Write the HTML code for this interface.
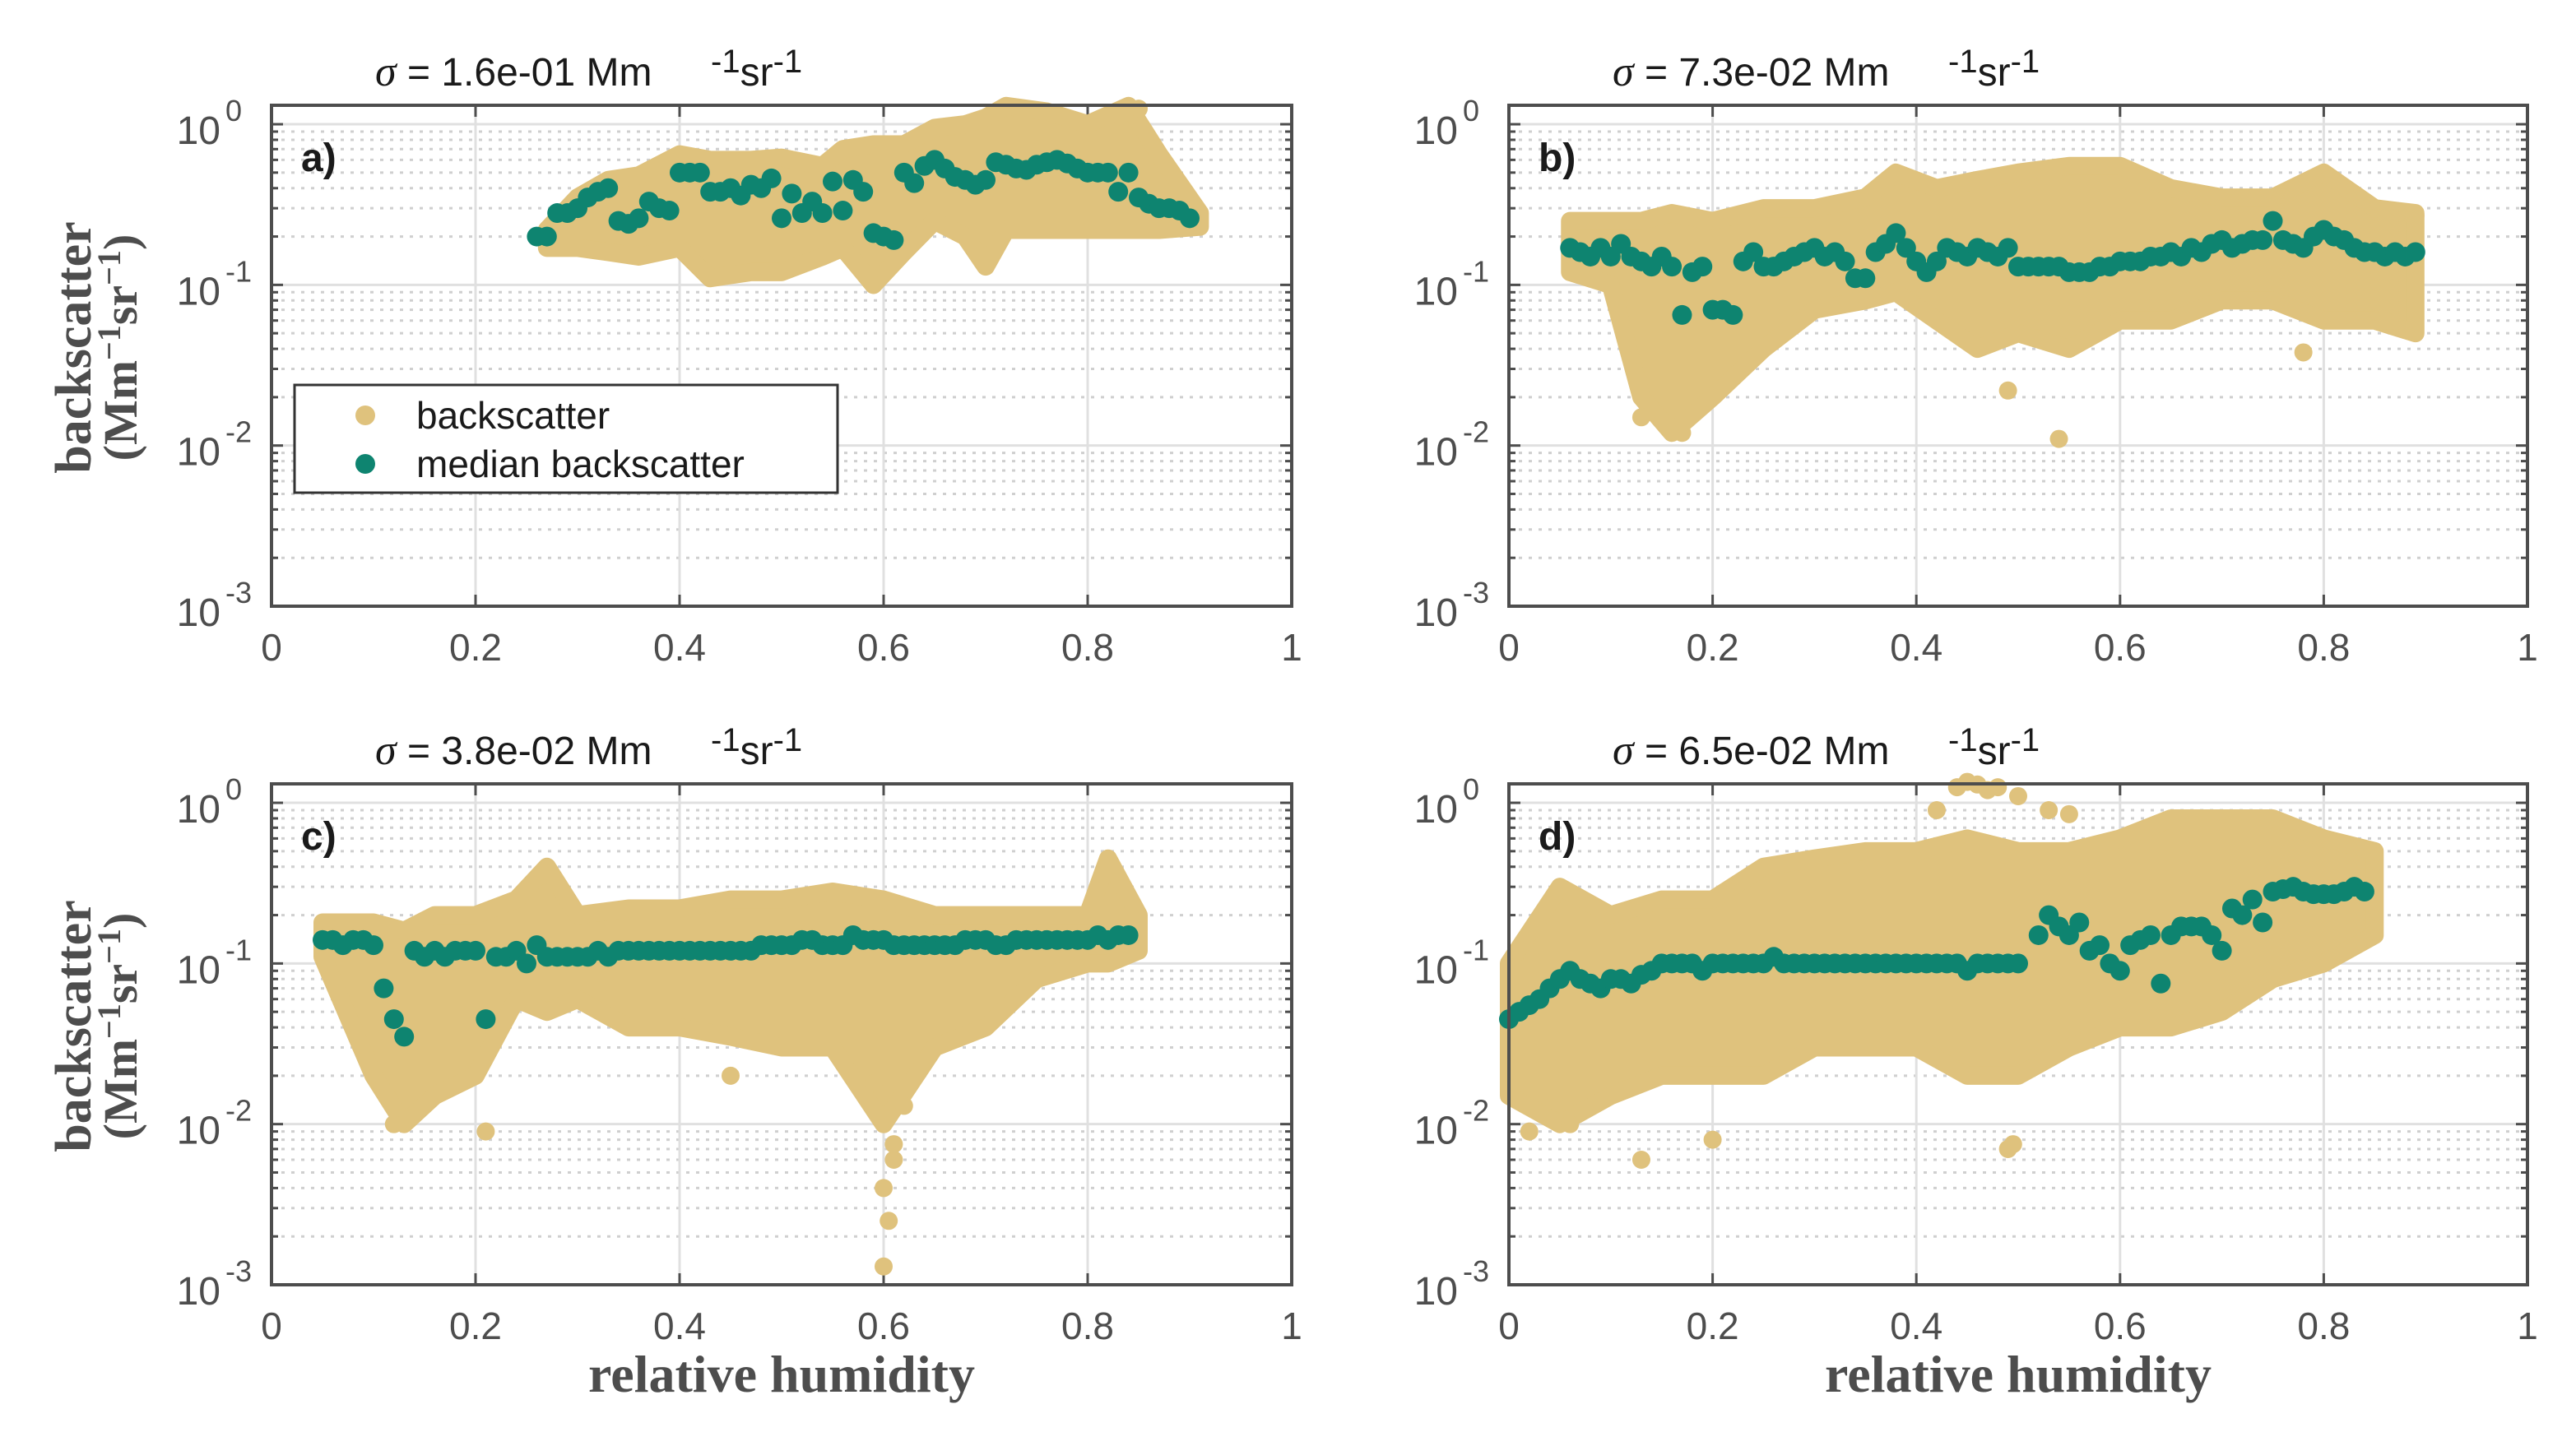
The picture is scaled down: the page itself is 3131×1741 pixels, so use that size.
<!DOCTYPE html>
<html><head><meta charset="utf-8">
<style>
html,body{margin:0;padding:0;background:#fff;}
svg{display:block;}
.sans{font-family:"Liberation Sans",sans-serif;}
.serif{font-family:"Liberation Serif",serif;}
</style></head>
<body>
<svg id="fig" width="3131" height="1741" viewBox="0 0 3131 1741" xmlns="http://www.w3.org/2000/svg"></svg>
<script>
// ---- data ----
const xTicks = [0, 0.2, 0.4, 0.6, 0.8, 1];
const xTickLabels = ["0", "0.2", "0.4", "0.6", "0.8", "1"];
const yDecades = [-3, -2, -1, 0];
const panelLetters = ["a)", "b)", "c)", "d)"];
const sigmaLabels = ["1.6e-01", "7.3e-02", "3.8e-02", "6.5e-02"];

// cloud envelopes: x, lower, upper
const cloudAX = [0.27,0.30,0.33,0.36,0.40,0.43,0.47,0.50,0.54,0.56,0.59,0.62,0.65,0.68,0.70,0.72,0.76,0.80,0.84,0.87,0.91];
const cloudALo = [0.17,0.17,0.16,0.15,0.17,0.11,0.12,0.12,0.15,0.17,0.10,0.16,0.25,0.20,0.13,0.22,0.22,0.22,0.22,0.22,0.23];
const cloudAHi = [0.22,0.35,0.45,0.48,0.65,0.60,0.60,0.62,0.55,0.70,0.75,0.75,0.95,1.0,1.1,1.3,1.2,1.0,1.3,0.65,0.28];

const cloudBX = [0.06,0.10,0.13,0.16,0.20,0.25,0.30,0.35,0.38,0.42,0.46,0.50,0.55,0.60,0.65,0.70,0.75,0.80,0.85,0.89];
const cloudBLo = [0.12,0.10,0.02,0.012,0.02,0.04,0.07,0.08,0.09,0.06,0.04,0.05,0.04,0.06,0.06,0.08,0.08,0.06,0.06,0.05];
const cloudBHi = [0.25,0.25,0.25,0.28,0.25,0.30,0.30,0.35,0.50,0.40,0.45,0.50,0.55,0.55,0.40,0.35,0.35,0.50,0.30,0.28];

const cloudCX = [0.05,0.10,0.13,0.16,0.20,0.24,0.27,0.30,0.35,0.40,0.45,0.50,0.55,0.60,0.65,0.70,0.75,0.80,0.82,0.85];
const cloudCLo = [0.11,0.02,0.01,0.015,0.02,0.06,0.05,0.06,0.04,0.04,0.035,0.03,0.03,0.01,0.03,0.04,0.08,0.10,0.10,0.12];
const cloudCHi = [0.18,0.18,0.16,0.20,0.20,0.25,0.40,0.20,0.22,0.22,0.25,0.25,0.28,0.25,0.20,0.20,0.20,0.20,0.45,0.20];

const cloudDX = [0.00,0.05,0.10,0.15,0.20,0.25,0.30,0.35,0.40,0.45,0.50,0.55,0.60,0.65,0.70,0.75,0.80,0.85];
const cloudDLo = [0.015,0.01,0.015,0.02,0.02,0.02,0.03,0.03,0.03,0.02,0.02,0.03,0.04,0.04,0.05,0.08,0.10,0.15];
const cloudDHi = [0.10,0.30,0.20,0.25,0.25,0.40,0.45,0.50,0.50,0.60,0.50,0.50,0.60,0.80,0.80,0.80,0.60,0.50];

// scattered outliers
const outAX = [0.59,0.85];
const outAY = [0.10,1.25];
const outBX = [0.54,0.78,0.49,0.17,0.86,0.89,0.13];
const outBY = [0.011,0.038,0.022,0.012,0.06,0.27,0.015];
const outCX = [0.60,0.605,0.60,0.61,0.61,0.45,0.21,0.12,0.59,0.62];
const outCY = [0.0013,0.0025,0.004,0.006,0.0075,0.02,0.009,0.01,0.018,0.013];
const outDX = [0.44,0.45,0.46,0.47,0.48,0.50,0.53,0.55,0.42,0.13,0.49,0.20,0.06,0.02,0.495];
const outDY = [1.25,1.35,1.3,1.2,1.25,1.1,0.9,0.85,0.9,0.006,0.007,0.008,0.01,0.009,0.0075];

// medians
const medAX = [0.26,0.27,0.28,0.29,0.30,0.31,0.32,0.33,0.34,0.35,0.36,0.37,0.38,0.39,0.40,0.41,0.42,0.43,0.44,0.45,0.46,0.47,0.48,0.49,0.50,0.51,0.52,0.53,0.54,0.55,0.56,0.57,0.58,0.59,0.60,0.61,0.62,0.63,0.64,0.65,0.66,0.67,0.68,0.69,0.70,0.71,0.72,0.73,0.74,0.75,0.76,0.77,0.78,0.79,0.80,0.81,0.82,0.83,0.84,0.85,0.86,0.87,0.88,0.89,0.90];
const medAY = [0.2,0.2,0.28,0.28,0.3,0.35,0.38,0.4,0.25,0.24,0.26,0.33,0.3,0.29,0.5,0.5,0.5,0.38,0.38,0.4,0.36,0.42,0.4,0.46,0.26,0.37,0.28,0.33,0.28,0.44,0.29,0.45,0.38,0.21,0.2,0.19,0.5,0.43,0.55,0.6,0.53,0.47,0.45,0.42,0.45,0.58,0.56,0.53,0.52,0.56,0.58,0.6,0.57,0.53,0.5,0.5,0.5,0.38,0.5,0.35,0.32,0.3,0.3,0.29,0.26];
const medBX = [0.06,0.07,0.08,0.09,0.10,0.11,0.12,0.13,0.14,0.15,0.16,0.17,0.18,0.19,0.20,0.21,0.22,0.23,0.24,0.25,0.26,0.27,0.28,0.29,0.30,0.31,0.32,0.33,0.34,0.35,0.36,0.37,0.38,0.39,0.40,0.41,0.42,0.43,0.44,0.45,0.46,0.47,0.48,0.49,0.50,0.51,0.52,0.53,0.54,0.55,0.56,0.57,0.58,0.59,0.60,0.61,0.62,0.63,0.64,0.65,0.66,0.67,0.68,0.69,0.70,0.71,0.72,0.73,0.74,0.75,0.76,0.77,0.78,0.79,0.80,0.81,0.82,0.83,0.84,0.85,0.86,0.87,0.88,0.89];
const medBY = [0.17,0.16,0.15,0.17,0.15,0.18,0.15,0.14,0.13,0.15,0.13,0.065,0.12,0.13,0.07,0.07,0.065,0.14,0.16,0.13,0.13,0.14,0.15,0.16,0.17,0.15,0.16,0.14,0.11,0.11,0.16,0.18,0.21,0.17,0.14,0.12,0.14,0.17,0.16,0.15,0.17,0.16,0.15,0.17,0.13,0.13,0.13,0.13,0.13,0.12,0.12,0.12,0.13,0.13,0.14,0.14,0.14,0.15,0.15,0.16,0.15,0.17,0.16,0.18,0.19,0.17,0.18,0.19,0.19,0.25,0.19,0.18,0.17,0.2,0.22,0.2,0.19,0.17,0.16,0.16,0.15,0.16,0.15,0.16];
const medCX = [0.05,0.06,0.07,0.08,0.09,0.10,0.11,0.12,0.13,0.14,0.15,0.16,0.17,0.18,0.19,0.20,0.21,0.22,0.23,0.24,0.25,0.26,0.27,0.28,0.29,0.30,0.31,0.32,0.33,0.34,0.35,0.36,0.37,0.38,0.39,0.40,0.41,0.42,0.43,0.44,0.45,0.46,0.47,0.48,0.49,0.50,0.51,0.52,0.53,0.54,0.55,0.56,0.57,0.58,0.59,0.60,0.61,0.62,0.63,0.64,0.65,0.66,0.67,0.68,0.69,0.70,0.71,0.72,0.73,0.74,0.75,0.76,0.77,0.78,0.79,0.80,0.81,0.82,0.83,0.84];
const medCY = [0.14,0.14,0.13,0.14,0.14,0.13,0.07,0.045,0.035,0.12,0.11,0.12,0.11,0.12,0.12,0.12,0.045,0.11,0.11,0.12,0.1,0.13,0.11,0.11,0.11,0.11,0.11,0.12,0.11,0.12,0.12,0.12,0.12,0.12,0.12,0.12,0.12,0.12,0.12,0.12,0.12,0.12,0.12,0.13,0.13,0.13,0.13,0.14,0.14,0.13,0.13,0.13,0.15,0.14,0.14,0.14,0.13,0.13,0.13,0.13,0.13,0.13,0.13,0.14,0.14,0.14,0.13,0.13,0.14,0.14,0.14,0.14,0.14,0.14,0.14,0.14,0.15,0.14,0.15,0.15];
const medDX = [0.00,0.01,0.02,0.03,0.04,0.05,0.06,0.07,0.08,0.09,0.10,0.11,0.12,0.13,0.14,0.15,0.16,0.17,0.18,0.19,0.20,0.21,0.22,0.23,0.24,0.25,0.26,0.27,0.28,0.29,0.30,0.31,0.32,0.33,0.34,0.35,0.36,0.37,0.38,0.39,0.40,0.41,0.42,0.43,0.44,0.45,0.46,0.47,0.48,0.49,0.50,0.52,0.53,0.54,0.55,0.56,0.57,0.58,0.59,0.60,0.61,0.62,0.63,0.64,0.65,0.66,0.67,0.68,0.69,0.70,0.71,0.72,0.73,0.74,0.75,0.76,0.77,0.78,0.79,0.80,0.81,0.82,0.83,0.84];
const medDY = [0.045,0.05,0.055,0.06,0.07,0.08,0.09,0.08,0.075,0.07,0.08,0.08,0.075,0.085,0.09,0.1,0.1,0.1,0.1,0.09,0.1,0.1,0.1,0.1,0.1,0.1,0.11,0.1,0.1,0.1,0.1,0.1,0.1,0.1,0.1,0.1,0.1,0.1,0.1,0.1,0.1,0.1,0.1,0.1,0.1,0.09,0.1,0.1,0.1,0.1,0.1,0.15,0.2,0.17,0.15,0.18,0.12,0.13,0.1,0.09,0.13,0.14,0.15,0.075,0.15,0.17,0.17,0.17,0.15,0.12,0.22,0.2,0.25,0.18,0.28,0.29,0.3,0.28,0.27,0.27,0.27,0.28,0.3,0.28];

const panels = [
 {L:330, T:128, W:1240, H:609, cx:cloudAX, lo:cloudALo, hi:cloudAHi, ox:outAX, oy:outAY, mx:medAX, my:medAY},
 {L:1834,T:128, W:1238, H:609, cx:cloudBX, lo:cloudBLo, hi:cloudBHi, ox:outBX, oy:outBY, mx:medBX, my:medBY},
 {L:330, T:953, W:1240, H:609, cx:cloudCX, lo:cloudCLo, hi:cloudCHi, ox:outCX, oy:outCY, mx:medCX, my:medCY},
 {L:1834,T:953, W:1238, H:609, cx:cloudDX, lo:cloudDLo, hi:cloudDHi, ox:outDX, oy:outDY, mx:medDX, my:medDY}
];
const TAN = "#dfc27d", TEAL = "#0e8470", AX = "#4d4d4d";
const LOGTOP = 0.118;

const NS = "http://www.w3.org/2000/svg";
const svg = document.getElementById("fig");
function mk(tag, attrs, parent){
  const e = document.createElementNS(NS, tag);
  for (const k in attrs) e.setAttribute(k, attrs[k]);
  (parent||svg).appendChild(e);
  return e;
}

panels.forEach((p, i) => {
  const xs = v => p.L + v * p.W;
  const ys = v => p.T + p.H - (Math.log10(v) + 3) / (3 + LOGTOP) * p.H;
  const B = p.T + p.H;
  const g = mk("g", {});
  
  

  yDecades.forEach(d => {
    for (let m = 2; m <= 9; m++) {
      const v = m * Math.pow(10, d);
      if (Math.log10(v) > LOGTOP) continue;
      const yy = ys(v);
      const ln = mk("line", {x1:p.L, x2:p.L+p.W, y1:yy, y2:yy, stroke:"#cfcfcf", "stroke-width":3, "stroke-dasharray":"4 8"}, g);
      
      
      mk("line", {x1:p.L, x2:p.L+8, y1:yy, y2:yy, stroke:AX, "stroke-width":3}, g);
      mk("line", {x1:p.L+p.W-8, x2:p.L+p.W, y1:yy, y2:yy, stroke:AX, "stroke-width":3}, g);
    }
  });
  yDecades.forEach(d => {
    const yy = ys(Math.pow(10, d));
    const ln = mk("line", {x1:p.L, x2:p.L+p.W, y1:yy, y2:yy, stroke:"#e0e0e0", "stroke-width":3}, g);
    
    
    mk("line", {x1:p.L, x2:p.L+14, y1:yy, y2:yy, stroke:AX, "stroke-width":3}, g);
    mk("line", {x1:p.L+p.W-14, x2:p.L+p.W, y1:yy, y2:yy, stroke:AX, "stroke-width":3}, g);
    const t = mk("text", {x:p.L-62, y:yy+24, "text-anchor":"end", "font-size":48, fill:AX, "class":"sans"}, g);
    t.textContent = "10";
    
    
    const s = mk("text", {x:p.L-56, y:yy-4, "font-size":36, fill:AX, "class":"sans"}, g);
    s.textContent = String(d);
    
    
  });
  xTicks.forEach((v, k) => {
    const xx = xs(v);
    if (k > 0 && k < xTicks.length - 1) {
      mk("line", {x1:xx, x2:xx, y1:p.T, y2:B, stroke:"#e0e0e0", "stroke-width":3}, g);
      mk("line", {x1:xx, x2:xx, y1:p.T, y2:p.T+14, stroke:AX, "stroke-width":3}, g);
      mk("line", {x1:xx, x2:xx, y1:B-14, y2:B, stroke:AX, "stroke-width":3}, g);
    }
    const t = mk("text", {x:xx, y:B+66, "text-anchor":"middle", "font-size":46, fill:AX, "class":"sans"}, g);
    t.textContent = xTickLabels[k];
    
    
  });

  let pts = p.cx.map((x, k) => xs(x) + "," + ys(p.hi[k]));
  for (let k = p.cx.length - 1; k >= 0; k--) pts.push(xs(p.cx[k]) + "," + ys(p.lo[k]));
  const cloud = mk("polygon", {points:pts.join(" "), fill:TAN, stroke:TAN, "stroke-width":22, "stroke-linejoin":"round"}, g);
  
  
  p.ox.forEach((x, k) => {
    const c = mk("circle", {cx:xs(x), cy:ys(p.oy[k]), r:11, fill:TAN}, g);
    
    
  });
  p.mx.forEach((x, k) => {
    const c = mk("circle", {cx:xs(x), cy:ys(p.my[k]), r:12, fill:TEAL}, g);
    
    
  });

  const box = mk("rect", {x:p.L, y:p.T, width:p.W, height:p.H, fill:"none", stroke:AX, "stroke-width":4}, g);
  
  

  const lt = mk("text", {x:p.L+36, y:p.T+80, "font-size":48, "font-weight":"bold", fill:"#1a1a1a", "class":"sans"}, g);
  lt.textContent = panelLetters[i];
  
  

  const tt = mk("text", {x:p.L+126, y:p.T-24, "font-size":48, fill:"#1a1a1a", "class":"sans"}, g);
  tt.innerHTML = '<tspan style="font-family:\'Liberation Serif\',serif;font-style:italic" font-size="52">σ</tspan> = ' + sigmaLabels[i] + ' Mm';
  
  
  const tu = mk("text", {x:p.L+534, y:p.T-24, "font-size":48, fill:"#1a1a1a", "class":"sans"}, g);
  tu.innerHTML = '<tspan dy="-16" font-size="40">-1</tspan><tspan dy="16">sr</tspan><tspan dy="-16" font-size="40">-1</tspan>';
  
  

  if (i % 2 === 0) {
    const cy = p.T + p.H / 2 - 10;
    const yl = mk("text", {x:0, y:0, transform:"translate(110," + cy + ") rotate(-90)", "text-anchor":"middle", "font-size":62, "font-weight":"bold", fill:"#4d4d4d", "class":"serif"}, g);
    yl.textContent = "backscatter";
    
    
    const yl2 = mk("text", {x:0, y:0, transform:"translate(166," + cy + ") rotate(-90)", "text-anchor":"middle", "font-size":58, "font-weight":"bold", fill:"#4d4d4d", "class":"serif"}, g);
    yl2.innerHTML = '(Mm<tspan dy="-20" font-size="40">−1</tspan><tspan dy="20">sr</tspan><tspan dy="-20" font-size="40">−1</tspan><tspan dy="20">)</tspan>';
    
    
  }
  if (i >= 2) {
    const xl = mk("text", {x:p.L + p.W/2 - 0, y:1692, "text-anchor":"middle", "font-size":64, "font-weight":"bold", fill:"#4d4d4d", "class":"serif"}, g);
    xl.textContent = "relative humidity";
    
    
  }
});

const lg = mk("g", {});


mk("rect", {x:358, y:468, width:660, height:131, fill:"#fff", stroke:"#333", "stroke-width":3}, lg);
const e1 = mk("circle", {cx:444, cy:505, r:12, fill:TAN}, lg);


const t1 = mk("text", {x:506, y:521, "font-size":46, fill:"#1a1a1a", "class":"sans"}, lg);
t1.textContent = "backscatter";


const e2 = mk("circle", {cx:444, cy:564, r:12, fill:TEAL}, lg);


const t2 = mk("text", {x:506, y:580, "font-size":46, fill:"#1a1a1a", "class":"sans"}, lg);
t2.textContent = "median backscatter";


</script>
</body></html>
